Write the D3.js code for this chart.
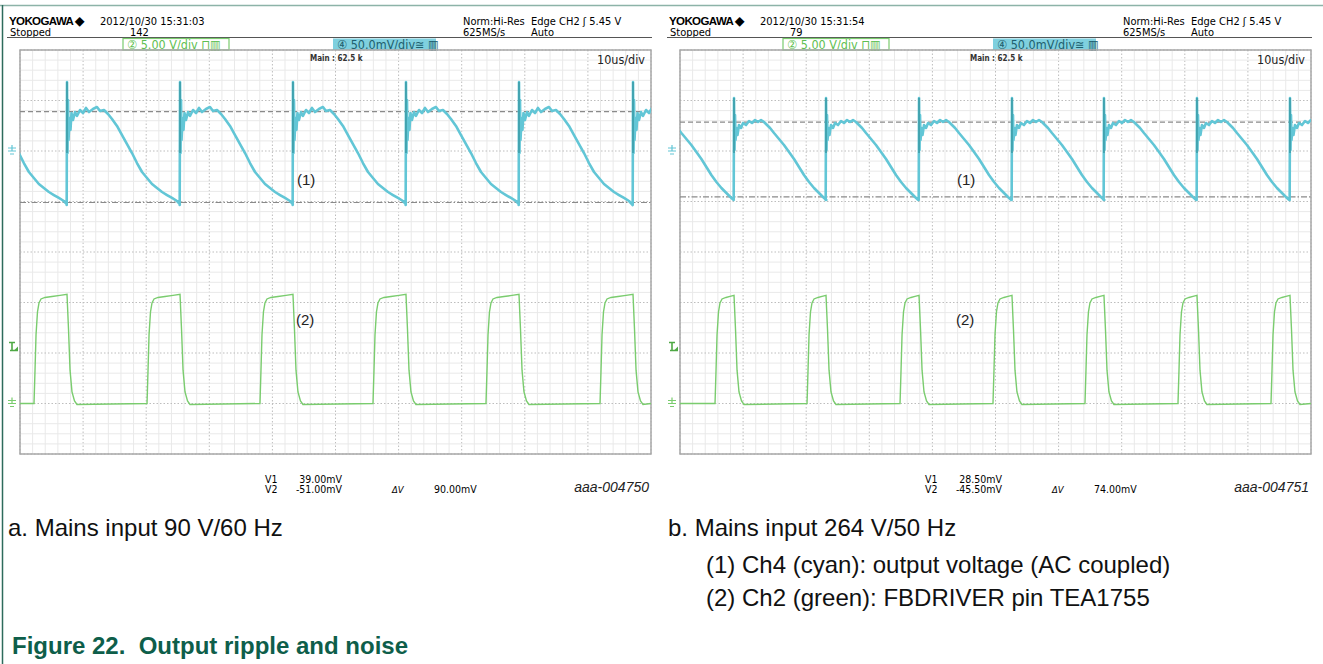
<!DOCTYPE html>
<html>
<head>
<meta charset="utf-8">
<script src="https://cdn.jsdelivr.net/npm/d3@7"></script>
<style>
  body { margin: 0; background: #fff; }
  .scope { font-family: "DejaVu Sans Condensed", "DejaVu Sans", sans-serif; font-stretch: condensed; }
  .cap { font-family: "Liberation Sans", Arial, sans-serif; }
</style>
</head>
<body>
<svg id="fig" width="1323" height="664"></svg>
<script>
// --- data read off the two scope screens (time in us, ripple in mV, drive in V) ---
// switching edges (time of the spike on ch4 / falling edge on ch2)
const edgesA = [-10.48, 7.45, 25.36, 43.26, 61.17, 79.08, 97.15];
const edgesB = [-6.12, 8.56, 23.14, 37.88, 52.61, 67.19, 81.93, 96.67];

// one ripple cycle after the edge: [dt us, mV]
const rippleA = [[-0.05,-53.5],[0,68.3],[0.08,-2],[0.16,50.5],[0.24,10.9],[0.40,32.7],[0.55,20.8],
  [0.71,37.6],[0.95,30.7],[1.27,38.6],[1.58,34.7],[2.06,40.6],[2.54,37.6],[3.01,42.6],[3.49,38.6],
  [4.12,41.6],[4.75,43.6],[5.23,39.6],[5.86,40.6],[6.50,36.6],[7.13,31.7],[7.92,24.8],[8.72,15.8],
  [9.51,6.9],[10.30,-2],[11.09,-11.9],[11.89,-20.8],[12.68,-26.7],[13.47,-32.7],[14.26,-36.6],
  [15.06,-40.6],[15.85,-43.6],[16.64,-46.5],[17.43,-49.5],[17.88,-52.5]];
const rippleB = [[-0.05,-48.5],[0,52.5],[0.08,1.0],[0.16,35.6],[0.24,10.9],[0.40,22.8],[0.55,15.8],
  [0.79,25.7],[1.11,22.8],[1.43,27.7],[1.90,25.7],[2.38,29.7],[2.85,27.7],[3.33,30.7],[3.80,28.7],
  [4.28,30.7],[4.75,28.7],[5.23,25.7],[5.71,22.8],[6.34,17.8],[7.13,11.9],[7.92,5.9],[8.72,-1.0],
  [9.51,-7.9],[10.30,-15.8],[11.09,-23.8],[11.89,-30.7],[12.68,-36.6],[13.47,-41.6],[14.10,-45.5],
  [14.63,-48.5]];

// one gate-drive pulse around the falling edge: [dt us, V]
const pulseA = [[-5.23,0],[-5.07,3.3],[-4.91,6.8],[-4.68,9.06],[-4.44,9.95],[-4.12,10.35],[-3.49,10.5],
  [-2.38,10.6],[-1.11,10.7],[0,10.8],[0.24,7.3],[0.48,3.3],[0.79,1.14],[1.19,0.25],[1.58,-0.1]];
const pulseB = [[-3.01,0],[-2.85,3.3],[-2.69,6.8],[-2.46,9.06],[-2.22,9.95],[-1.90,10.35],[-1.27,10.5],
  [-0.63,10.6],[0,10.7],[0.24,7.3],[0.48,3.3],[0.79,1.14],[1.19,0.25],[1.58,-0.1]];

const cursorsA = [39.0, -51.0];
const cursorsB = [28.5, -45.5];

const panels = [
  { ox: 0,   time: "2012/10/30 15:31:03", count: "142", edges: edgesA, ripple: rippleA, pulse: pulseA,
    cur: cursorsA, v1: "39.00mV", v2: "-51.00mV", dv: "90.00mV", id: "aaa-004750" },
  { ox: 660, time: "2012/10/30 15:31:54", count: "79", edges: edgesB, ripple: rippleB, pulse: pulseB,
    cur: cursorsB, v1: "28.50mV", v2: "-45.50mV", dv: "74.00mV", id: "aaa-004751" }
];

const svg = d3.select("#fig");
const cyan = "#62c6d6", green = "#7acc6e";

// page frame
svg.append("line").attr("x1", 0).attr("x2", 1323).attr("y1", 5.5).attr("y2", 5.5)
  .attr("stroke", "#8db3a8").attr("stroke-width", 1.5);
svg.append("line").attr("x1", 2.5).attr("x2", 2.5).attr("y1", 5).attr("y2", 664)
  .attr("stroke", "#2d6b5c").attr("stroke-width", 1.5);

panels.forEach((p, i) => {
  const g = svg.append("g").attr("class", "scope").attr("transform", `translate(${p.ox},0)`);
  const gx = 20, gy = 50, gw = 631, gh = 404;
  const x = d3.scaleLinear().domain([0, 100]).range([gx, gx + gw]);
  const yC = d3.scaleLinear().domain([-300, 100]).range([gy + gh, gy]); // ch4 50 mV/div
  const yG = d3.scaleLinear().domain([-5, 35]).range([gy + gh, gy]);    // ch2 5 V/div

  // header
  g.append("text").attr("x", 9).attr("y", 25).attr("font-size", 11.5).attr("font-weight", "bold")
    .attr("font-family", "Liberation Sans, Arial").attr("letter-spacing", -0.6).text("YOKOGAWA \u25C6");
  g.append("text").attr("x", 10).attr("y", 36).attr("font-size", 11).text("Stopped");
  g.append("text").attr("x", 100).attr("y", 25).attr("font-size", 11).text(p.time);
  g.append("text").attr("x", 130).attr("y", 36).attr("font-size", 11).text(p.count);
  g.append("text").attr("x", 463).attr("y", 25).attr("font-size", 11).text("Norm:Hi-Res");
  g.append("text").attr("x", 463).attr("y", 36).attr("font-size", 11).text("625MS/s");
  g.append("text").attr("x", 531).attr("y", 25).attr("font-size", 11).text("Edge CH2 \u0283 5.45 V");
  g.append("text").attr("x", 531).attr("y", 36).attr("font-size", 11).text("Auto");
  g.append("line").attr("x1", 7).attr("x2", 652).attr("y1", 37.5).attr("y2", 37.5)
    .attr("stroke", "#555").attr("stroke-width", 1);

  // channel boxes
  g.append("rect").attr("x", 123).attr("y", 38.5).attr("width", 106).attr("height", 11.5)
    .attr("fill", "#fff").attr("stroke", green).attr("stroke-width", 1.2);
  g.append("text").attr("x", 127).attr("y", 49).attr("font-size", 12.5).attr("fill", "#5fbf52")
    .text("\u2461 5.00 V/div \u2293\u25A5");
  g.append("rect").attr("x", 333).attr("y", 38.5).attr("width", 103).attr("height", 11.5)
    .attr("fill", "#7fd0df");
  g.append("text").attr("x", 337).attr("y", 49).attr("font-size", 12.5).attr("fill", "#1e5f6e")
    .text("\u2463 50.0mV/div\u2245 \u25A5");

  // grid
  const grid = g.append("g");
  d3.range(0, 51).forEach(k => {
    const xx = gx + gw * k / 50;
    grid.append("line").attr("x1", xx).attr("x2", xx).attr("y1", gy).attr("y2", gy + gh)
      .attr("stroke", k % 5 ? "#e9e9e9" : "#bdbdbd").attr("stroke-width", 1)
      .attr("stroke-dasharray", k % 5 ? null : "1.5,2");
  });
  d3.range(0, 41).forEach(k => {
    const yy = gy + gh * k / 40;
    grid.append("line").attr("x1", gx).attr("x2", gx + gw).attr("y1", yy).attr("y2", yy)
      .attr("stroke", k % 5 ? "#e9e9e9" : "#bdbdbd").attr("stroke-width", 1)
      .attr("stroke-dasharray", k % 5 ? null : "1.5,2");
  });
  grid.append("rect").attr("x", gx).attr("y", gy).attr("width", gw).attr("height", gh)
    .attr("fill", "none").attr("stroke", "#a8a8a8").attr("stroke-width", 1.5);

  g.append("text").attr("x", 310).attr("y", 61).attr("font-size", 8).attr("font-weight", "bold")
    .attr("fill", "#333").text("Main : 62.5 k");
  g.append("text").attr("x", 645).attr("y", 64).attr("font-size", 12.5).attr("text-anchor", "end")
    .attr("fill", "#222").text("10us/div");

  // cursors
  g.append("line").attr("x1", gx).attr("x2", gx + gw).attr("y1", yC(p.cur[0])).attr("y2", yC(p.cur[0]))
    .attr("stroke", "#8a8a8a").attr("stroke-width", 1.2).attr("stroke-dasharray", "5,3");
  g.append("line").attr("x1", gx).attr("x2", gx + gw).attr("y1", yC(p.cur[1])).attr("y2", yC(p.cur[1]))
    .attr("stroke", "#8a8a8a").attr("stroke-width", 1.2).attr("stroke-dasharray", "6,2,1.5,2");

  const clipId = "clip" + i;
  g.append("clipPath").attr("id", clipId).append("rect")
    .attr("x", gx).attr("y", gy).attr("width", gw).attr("height", gh);

  // ch2 drive pulses
  const drive = [[0, 0]];
  p.edges.forEach(t => p.pulse.forEach(d => drive.push([t + d[0], d[1]])));
  drive.push([100, 0]);
  const driveLine = d3.line().x(d => x(d[0])).y(d => yG(d[1]));
  g.append("path").datum(drive.filter(d => d[0] >= -2 && d[0] <= 102).sort((a, b) => a[0] - b[0]))
    .attr("d", driveLine).attr("clip-path", `url(#${clipId})`)
    .attr("fill", "none").attr("stroke", green).attr("stroke-width", 1.4);

  // ch4 ripple
  const ripple = [];
  p.edges.forEach(t => p.ripple.forEach(d => ripple.push([t + d[0], d[1]])));
  const rippleLine = d3.line().x(d => x(d[0])).y(d => yC(d[1]));
  g.append("path").datum(ripple)
    .attr("d", rippleLine).attr("clip-path", `url(#${clipId})`)
    .attr("fill", "none").attr("stroke", cyan).attr("stroke-width", 2.6).attr("stroke-linejoin", "round");
  // spike ringing lines
  p.edges.filter(t => t > 0 && t < 100).forEach(t => {
    g.append("line").attr("x1", x(t)).attr("x2", x(t)).attr("y1", yC(p.ripple[1][1])).attr("y2", yC(-2))
      .attr("stroke", "#2f8f98").attr("stroke-width", 1.2);
  });

  // channel markers on the left
  const mk = g.append("g");
  const zc = yC(0);
  mk.append("path").attr("d", `M8,${zc - 3}h8M8,${zc}h8M10,${zc + 3}h4M12,${zc - 6}v6`)
    .attr("stroke", cyan).attr("stroke-width", 1.2).attr("fill", "none");
  const zg = yG(0);
  mk.append("path").attr("d", `M8,${zg - 3}h8M8,${zg}h8M10,${zg + 3}h4M12,${zg - 6}v6`)
    .attr("stroke", green).attr("stroke-width", 1.2).attr("fill", "none");
  const tg = yG(5.45);
  mk.append("path").attr("d", `M9,${tg - 6}h6M12,${tg - 6}v8M10,${tg + 2}h8`)
    .attr("stroke", "#4fa845").attr("stroke-width", 1.6).attr("fill", "none");
  mk.append("path").attr("d", `M14,${tg + 2}l4,-4v4z`).attr("fill", "#4fa845");

  // trace labels
  g.append("text").attr("x", 297).attr("y", 185).attr("font-size", 15)
    .attr("font-family", "Liberation Sans, Arial").attr("fill", "#222").text("(1)");
  g.append("text").attr("x", 296).attr("y", 325).attr("font-size", 15)
    .attr("font-family", "Liberation Sans, Arial").attr("fill", "#222").text("(2)");

  // cursor readout
  g.append("text").attr("x", 265).attr("y", 483).attr("font-size", 10.5).text("V1");
  g.append("text").attr("x", 265).attr("y", 493).attr("font-size", 10.5).text("V2");
  g.append("text").attr("x", 342).attr("y", 483).attr("font-size", 10.5).attr("text-anchor", "end").text(p.v1);
  g.append("text").attr("x", 342).attr("y", 493).attr("font-size", 10.5).attr("text-anchor", "end").text(p.v2);
  g.append("text").attr("x", 392).attr("y", 493).attr("font-size", 9.5).attr("font-style", "italic").text("\u0394V");
  g.append("text").attr("x", 434).attr("y", 493).attr("font-size", 10.5).text(p.dv);
  g.append("text").attr("x", 649).attr("y", 492).attr("font-size", 14).attr("text-anchor", "end")
    .attr("font-style", "italic").attr("font-family", "Liberation Sans, Arial").attr("fill", "#222").text(p.id);
});

// captions
const cap = svg.append("g").attr("class", "cap").attr("fill", "#111");
cap.append("text").attr("x", 8).attr("y", 536).attr("font-size", 24).text("a. Mains input 90 V/60 Hz");
cap.append("text").attr("x", 668).attr("y", 536).attr("font-size", 24).text("b. Mains input 264 V/50 Hz");
cap.append("text").attr("x", 706).attr("y", 573).attr("font-size", 24).text("(1) Ch4 (cyan): output voltage (AC coupled)");
cap.append("text").attr("x", 706).attr("y", 606).attr("font-size", 24).text("(2) Ch2 (green): FBDRIVER pin TEA1755");
svg.append("text").attr("class", "cap").attr("x", 12).attr("y", 654).attr("font-size", 24)
  .attr("font-weight", "bold").attr("fill", "#0e5e4a").attr("xml:space", "preserve")
  .text("Figure 22.  Output ripple and noise");
</script>
</body>
</html>
